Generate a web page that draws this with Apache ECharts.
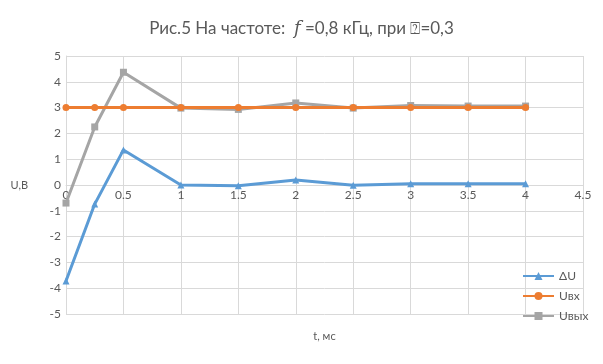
<!DOCTYPE html>
<html><head><meta charset="utf-8">
<script src="https://cdn.jsdelivr.net/npm/echarts@6/dist/echarts.min.js"></script>
<style>html,body{margin:0;padding:0;background:#fff}#c{width:603px;height:364px}</style>
</head><body><div id="c"></div>
<script>
const tValues = [0, 0.25, 0.5, 1, 1.5, 2, 2.5, 3, 3.5, 4];
const dU = [-3.72, -0.74, 1.36, 0, -0.03, 0.19, -0.01, 0.05, 0.05, 0.05];
const uIn = [3, 3, 3, 3, 3, 3, 3, 3, 3, 3];
const uOut = [-0.7, 2.25, 4.37, 2.98, 2.93, 3.18, 2.98, 3.08, 3.06, 3.06];
const seriesNames = ['ΔU', 'Uвх', 'Uвых'];
const colors = ['#5B9BD5', '#ED7D31', '#A5A5A5'];
const symbols = ['triangle', 'circle', 'rect'];
const pair = arr => tValues.map((t, i) => [t, arr[i]]);
const all = [dU, uIn, uOut];
const font = 'Lato, "Open Sans", sans-serif';
const chart = echarts.init(document.getElementById('c'));
chart.setOption({
  animation: false,
  title: {
    text: '{a|Рис.5 На частоте:  }{i|f}{a| =0,8 кГц, при ⍰=0,3}',
    left: 'center', top: 15,
    textStyle: { fontWeight: 'normal', rich: {
      a: { fontFamily: font, fontSize: 17, fontWeight: 'normal', color: '#595959' },
      i: { fontFamily: '"DejaVu Serif", serif', fontStyle: 'italic', fontWeight: 'normal', fontSize: 18, color: '#595959' }
    } }
  },
  grid: { left: 66, right: 20, top: 56, bottom: 50, containLabel: false, outerBoundsMode: 'none' },
  legend: {
    orient: 'vertical', left: 522, top: 270, padding: 0, itemGap: 8, itemWidth: 31, itemHeight: 10,
    textStyle: { fontFamily: font, fontSize: 12, color: '#595959' },
    data: seriesNames
  },
  xAxis: {
    type: 'value', min: 0, max: 4.5, interval: 0.5,
    offset: -129,
    name: 't, мс', nameLocation: 'middle', nameGap: 146,
    nameTextStyle: { fontFamily: font, fontSize: 11, color: '#595959' },
    axisLine: { onZero: false, lineStyle: { color: '#D9D9D9' } },
    axisTick: { show: false },
    axisLabel: { fontFamily: font, fontSize: 12, color: '#595959', margin: 4 },
    splitLine: { lineStyle: { color: '#D9D9D9' } }
  },
  yAxis: {
    type: 'value', min: -5, max: 5, interval: 1,
    name: 'U,B', nameLocation: 'middle', nameRotate: 0, nameGap: 38,
    nameTextStyle: { fontFamily: font, fontSize: 11, color: '#595959', align: 'right' },
    axisLine: { show: true, onZero: false, lineStyle: { color: '#D9D9D9' } },
    axisTick: { show: false },
    axisLabel: { fontFamily: font, fontSize: 12, color: '#595959', margin: 5 },
    splitLine: { lineStyle: { color: '#D9D9D9' } }
  },
  series: seriesNames.map((n, k) => ({
    name: n, type: 'line', data: pair(all[k]),
    symbol: symbols[k], symbolSize: 7,
    lineStyle: { width: 3, color: colors[k] },
    itemStyle: { color: colors[k] },
    z: k === 1 ? 4 : (k === 0 ? 3 : 2)
  }))
});
</script></body></html>
